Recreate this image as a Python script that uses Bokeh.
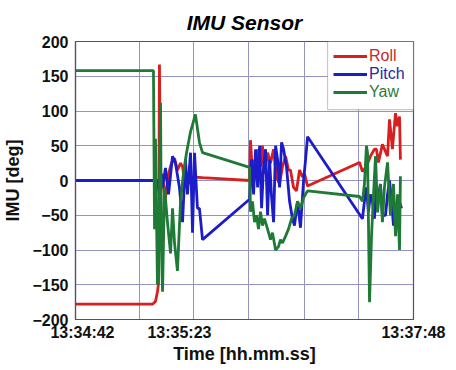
from bokeh.plotting import figure
from bokeh.models import Legend, LegendItem, FixedTicker, BoxAnnotation, Range1d
from bokeh.embed import file_html
from bokeh.resources import INLINE

# ---- data (time in seconds after 13:34:42) ----
time_labels = ["13:34:42", "13:35:23", "13:37:48"]
time_label_pos = [3.85, 57.2, 186.0]
grid_pos = [35.2, 64.9, 95.2, 126.0, 155.7]
y_ticks = [-200, -150, -100, -50, 0, 50, 100, 150, 200]

roll_t = [0, 42.4, 44.0, 45.1, 45.7, 46.2, 46.8, 47.9, 49.5, 51.2, 52.8, 54.5, 56.1, 57.8, 58.9,
          60.5, 62.2, 63.3, 64.9, 69.9, 95.8, 96.3, 97.4, 98.5, 99.6, 100.7, 101.8, 102.9, 104.0,
          105.7, 107.3, 109.0, 110.6, 112.3, 113.9, 115.6, 117.2, 118.3, 120.0, 121.6, 123.3, 124.9,
          126.0, 127.7, 156.3, 157.9, 160.1, 162.3, 164.5, 165.6, 166.7, 168.9, 171.7, 172.8, 174.4,
          176.1, 177.2, 178.3, 178.8]
roll = [-178, -178, -174, -160, -148, 167, -20, 5, -25, 10, 25, 32, 15, 25, 20,
        -10, 5, -5, 5, 4, 0, 58, 10, 30, 5, 45, 20, 50, 10,
        40, 25, 45, 5, -5, 20, 35, 15, 15, -10, -15, 15, 5,
        10, -8, 26, 13, 20, 35, 45, 45, 26, 52, 35, 88, 45,
        97, 78, 92, 30]

pitch_t = [0, 43.5, 45.1, 46.2, 47.3, 47.9, 49.5, 51.2, 53.4, 55.0, 57.2, 58.9, 60.5, 61.6, 63.3,
           64.4, 65.5, 67.1, 68.2, 69.9, 95.8, 96.9, 98.0, 99.1, 100.2, 101.3, 102.4, 103.5, 104.6,
           105.7, 106.8, 107.8, 109.0, 110.1, 111.2, 112.3, 113.4, 114.5, 116.1, 117.8, 119.4, 120.5,
           122.2, 123.8, 125.5, 126.6, 127.7, 157.9, 159.0, 160.1, 161.2, 162.3, 163.4, 164.5, 165.6,
           166.7, 167.8, 168.9, 170.6, 171.7, 172.8, 173.9, 175.0, 176.1, 177.2, 178.3, 179.4]
pitch = [0, 0, 0, -20, 10, -10, 18, -20, 35, 25, -10, -60, 30, -20, 40,
         -75, 40, -40, -40, -85, -27, 30, -20, 45, -10, 50, -40, 20, 45,
         -50, 30, -20, -60, 50, 30, -10, 55, 45, 20, -30, -55, -65,
         -30, -68, 0, 30, 63, -55, -30, -10, -45, -20, -30, -55, -10,
         -25, -5, -50, -50, -20, 0, -30, -65, -50, -60, -30, -40]

yaw_t = [0, 42.9, 43.5, 44.0, 45.1, 46.2, 46.8, 47.3, 47.9, 49.0, 50.6, 52.3, 53.4, 54.5, 56.1,
         57.8, 59.4, 61.1, 63.3, 66.0, 68.2, 69.9, 95.8, 96.3, 97.4, 98.5, 99.6, 100.7, 101.8,
         102.9, 104.0, 105.7, 107.3, 108.4, 110.1, 111.7, 112.8, 113.9, 115.6, 117.2, 118.9, 120.5,
         122.2, 123.8, 125.5, 127.7, 156.3, 157.9, 159.0, 160.1, 160.7, 161.8, 162.9, 164.0, 165.1,
         166.2, 167.8, 168.9, 170.0, 171.7, 173.3, 175.0, 176.1, 177.2, 178.3, 178.8]
yaw = [158, 158, -70, 60, -150, -20, 112, -100, -160, -10, -60, -105, -40, -90, -130,
       -30, 10, 40, 70, 95, 55, 40, 19, -45, -30, -60, -50, -70, -45,
       -65, -55, -70, -85, -75, -100, -95, -85, -90, -80, -70, -55, -50,
       -30, -40, -25, -15, -23, -30, -5, 50, 40, -175, -80, -20, 35,
       -46, -5, -60, -10, 26, -50, -5, -80, -20, -100, 6]

series_names = ["Roll", "Pitch", "Yaw"]
series_colors = ["#d81e1e", "#1c1cc8", "#1f7a35"]
text_colors = ["#c82828", "#2a2aa8", "#2f7a40"]

FONT = "Liberation Sans"
FRAME_COL = "#50506e"

p = figure(frame_width=338, frame_height=278,
           x_range=Range1d(0, 186), y_range=Range1d(-200, 200),
           output_backend="svg", toolbar_location=None,
           min_border_left=65, min_border_right=37, min_border_top=40, min_border_bottom=38)
p.background_fill_color = "white"
p.border_fill_color = "white"
p.outline_line_color = FRAME_COL
p.outline_line_width = 1.2

p.title.text = "IMU Sensor"
p.title.text_font = FONT
p.title.text_font_style = "bold italic"
p.title.text_font_size = "21px"
p.title.text_color = "#000000"
p.title.align = "center"
p.title.standoff = 16

# grids
p.xgrid.ticker = FixedTicker(ticks=grid_pos)
p.ygrid.ticker = FixedTicker(ticks=y_ticks)
for g in (p.xgrid, p.ygrid):
    g.grid_line_color = "#9494c0"
    g.grid_line_width = 1
    g.grid_line_alpha = 1

# axes
p.xaxis.ticker = FixedTicker(ticks=time_label_pos)
p.xaxis.major_label_overrides = {pos: lab for pos, lab in zip(time_label_pos, time_labels)}
p.yaxis.ticker = FixedTicker(ticks=y_ticks)
p.xaxis.axis_label = "Time [hh.mm.ss]"
p.yaxis.axis_label = "IMU [deg]"
for ax in (p.xaxis, p.yaxis):
    ax.axis_label_text_font = FONT
    ax.axis_label_text_font_style = "bold"
    ax.axis_label_text_font_size = "18px"
    ax.axis_label_text_color = "#111111"
    ax.major_label_text_font = FONT
    ax.major_label_text_font_style = "bold"
    ax.major_label_text_font_size = "16px"
    ax.major_label_text_color = "#111111"
    ax.major_tick_in = 0
    ax.major_tick_out = 0
    ax.minor_tick_in = 0
    ax.minor_tick_out = 0
    ax.axis_line_color = FRAME_COL
    ax.axis_line_width = 1.2
p.xaxis.major_label_standoff = 4
p.xaxis.axis_label_standoff = 0
p.yaxis.major_label_standoff = 7
p.yaxis.axis_label_standoff = 6

renderers = []
for t, v, col in zip([roll_t, pitch_t, yaw_t], [roll, pitch, yaw], series_colors):
    r = p.line(t, v, line_color=col, line_width=2.8)
    renderers.append(r)

# legend box
box = BoxAnnotation(left=138.7, right=186, bottom=102, top=200,
                    fill_color="white", fill_alpha=1, line_color="#444444", line_width=1.2)
p.add_layout(box)

row_bottoms = [254, 236, 218]
for r, name, tc, yb in zip(renderers, series_names, text_colors, row_bottoms):
    lg = Legend(items=[LegendItem(label=name, renderers=[r])], location=(258, yb),
                label_text_color=tc, label_text_font=FONT, label_text_font_size="16px",
                glyph_width=34, glyph_height=18, label_height=18, label_standoff=2,
                padding=0, margin=0, spacing=0,
                border_line_alpha=0, background_fill_alpha=0)
    p.add_layout(lg)

open("out.html", "w").write(file_html(p, INLINE))
